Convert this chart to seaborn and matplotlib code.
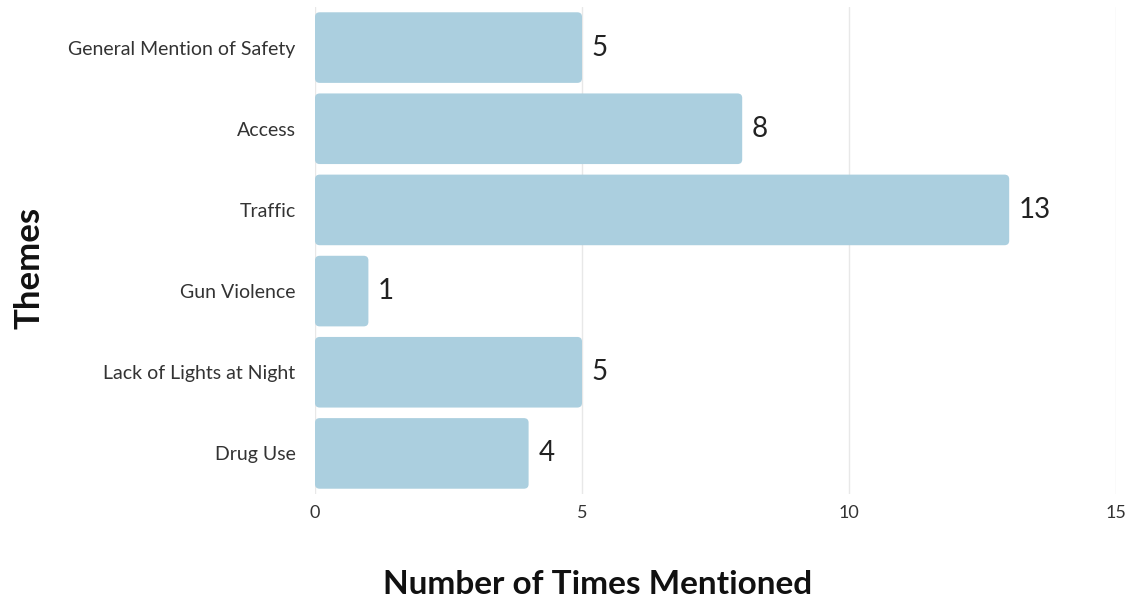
import matplotlib
matplotlib.use("Agg")
import matplotlib.pyplot as plt
from matplotlib.patches import FancyBboxPatch
import seaborn as sns
import pandas as pd

themes = [
    "General Mention of Safety",
    "Access",
    "Traffic",
    "Gun Violence",
    "Lack of Lights at Night",
    "Drug Use",
]
mentions = [5, 8, 13, 1, 5, 4]
x_ticks = [0, 5, 10, 15]

bar_color = "#abcfdf"

sns.set_theme(style="white")
plt.rcParams["font.family"] = ["Lato", "DejaVu Sans"]

df = pd.DataFrame({"Theme": themes, "Mentions": mentions})

fig = plt.figure(figsize=(11.33, 6.03), dpi=100)
ax = fig.add_axes([315 / 1133, 1 - 494 / 603, (1116 - 315) / 1133, (494 - 7) / 603])

sns.barplot(data=df, x="Mentions", y="Theme", color=bar_color, saturation=1,
            width=0.87, ax=ax, zorder=2)

# swap plain rectangles for rounded ones of the same geometry
for p in list(ax.patches):
    x0, y0 = p.get_x(), p.get_y()
    w, h = p.get_width(), p.get_height()
    rounded = FancyBboxPatch((x0, y0), w, h,
                             boxstyle="round,pad=0,rounding_size=0.09",
                             mutation_aspect=0.62,
                             facecolor=bar_color, edgecolor="none", zorder=2)
    p.remove()
    ax.add_patch(rounded)
    ax.text(x0 + w + 0.18, y0 + h / 2, f"{w:g}", va="center", ha="left",
            fontsize=20, color="#222222", zorder=3)

ax.set_xlim(0, 15)
ax.set_xticks(x_ticks)
ax.set_xticklabels([str(t) for t in x_ticks])
ax.xaxis.grid(True, color="#e8e8e8", linewidth=1, zorder=0)
ax.yaxis.grid(False)
for s in ax.spines.values():
    s.set_visible(False)
ax.tick_params(axis="x", length=0, pad=8, labelsize=13, labelcolor="#333333")
ax.tick_params(axis="y", length=0, pad=14, labelsize=14, labelcolor="#333333")

ax.set_xlabel("Number of Times Mentioned", fontsize=24, fontweight="bold",
              color="#111111")
ax.set_ylabel("Themes", fontsize=25, fontweight="bold", color="#111111")

# label positions in axes fraction coordinates
ax.xaxis.set_label_coords((598 - 315) / (1116 - 315), -(585 - 494) / (494 - 7))
ax.xaxis.label.set_va("center")
ax.yaxis.set_label_coords(-(315 - 30) / (1116 - 315), (494 - 268) / (494 - 7))
ax.yaxis.label.set_va("center")

fig.savefig("out.png", dpi=100, facecolor="white")
